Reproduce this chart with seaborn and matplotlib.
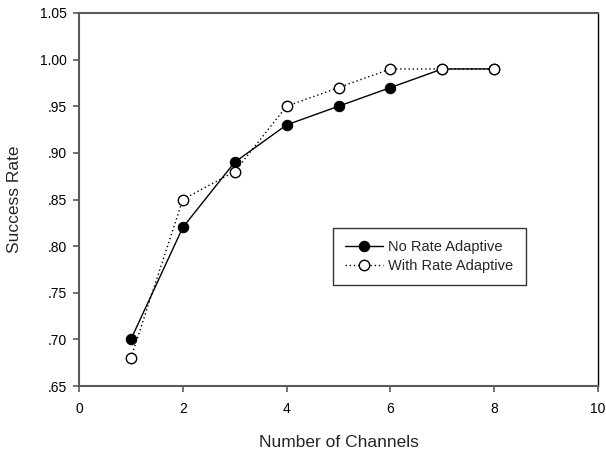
import matplotlib
matplotlib.use("Agg")
import matplotlib.pyplot as plt
import seaborn as sns
import pandas as pd
from matplotlib.ticker import FuncFormatter

channels = [1, 2, 3, 4, 5, 6, 7, 8]
no_rate = [0.70, 0.82, 0.89, 0.93, 0.95, 0.97, 0.99, 0.99]
with_rate = [0.68, 0.85, 0.88, 0.95, 0.97, 0.99, 0.99, 0.99]
series_names = ["No Rate Adaptive", "With Rate Adaptive"]
x_ticks = [0, 2, 4, 6, 8, 10]
y_ticks = [0.65, 0.70, 0.75, 0.80, 0.85, 0.90, 0.95, 1.00, 1.05]

sns.set_theme(style="ticks")
plt.rcParams['font.family'] = ['Liberation Sans', 'DejaVu Sans']

fig = plt.figure(figsize=(6.06, 4.51), dpi=100)
ax = fig.add_axes([79/606, 1 - 386/451, (598-79)/606, (386-13)/451])

df1 = pd.DataFrame({"x": channels, "y": no_rate})
df2 = pd.DataFrame({"x": channels, "y": with_rate})

sns.lineplot(data=df1, x="x", y="y", ax=ax, color="black", linewidth=1.0,
             marker="o", markersize=7.5, markerfacecolor="black",
             markeredgecolor="black", label=series_names[0], zorder=3)
sns.lineplot(data=df2, x="x", y="y", ax=ax, color="black", linewidth=1.0,
             linestyle=(0, (1, 2)), marker="o", markersize=7.5,
             markerfacecolor="white", markeredgecolor="black",
             markeredgewidth=1.0, label=series_names[1], zorder=4)

ax.set_xlim(0, 10)
ax.set_ylim(0.65, 1.05)
ax.set_xticks(x_ticks)
ax.set_yticks(y_ticks)

def fmt(v, pos):
    s = f"{v:.2f}"
    if s.startswith("0"):
        s = s[1:]
    return s

ax.yaxis.set_major_formatter(FuncFormatter(fmt))
ax.tick_params(axis="both", direction="out", length=4.5, width=1.2,
               labelsize=10, color="#5a5a5a", labelcolor="black")
ax.tick_params(axis="x", pad=7)
ax.tick_params(axis="y", pad=4)
for side in ["left", "bottom", "top"]:
    ax.spines[side].set_color("#5a5a5a")
    ax.spines[side].set_linewidth(1.5)
ax.spines["right"].set_color("black")
ax.spines["right"].set_linewidth(1.0)
ax.spines["top"].set_visible(True)
ax.spines["right"].set_visible(True)

ax.set_xlabel("Number of Channels", fontsize=12.5, labelpad=14)
ax.set_ylabel("Success Rate", fontsize=12.5, labelpad=13)

leg = ax.legend(loc="upper left", bbox_to_anchor=((333-79)/519, (386-228)/373),
                frameon=True, fancybox=False, edgecolor="black",
                fontsize=10.5, handlelength=2.6, borderpad=0.85,
                labelspacing=0.3, handletextpad=0.35, borderaxespad=0)
leg.get_frame().set_linewidth(1.0)

fig.savefig("out.png", dpi=100)
